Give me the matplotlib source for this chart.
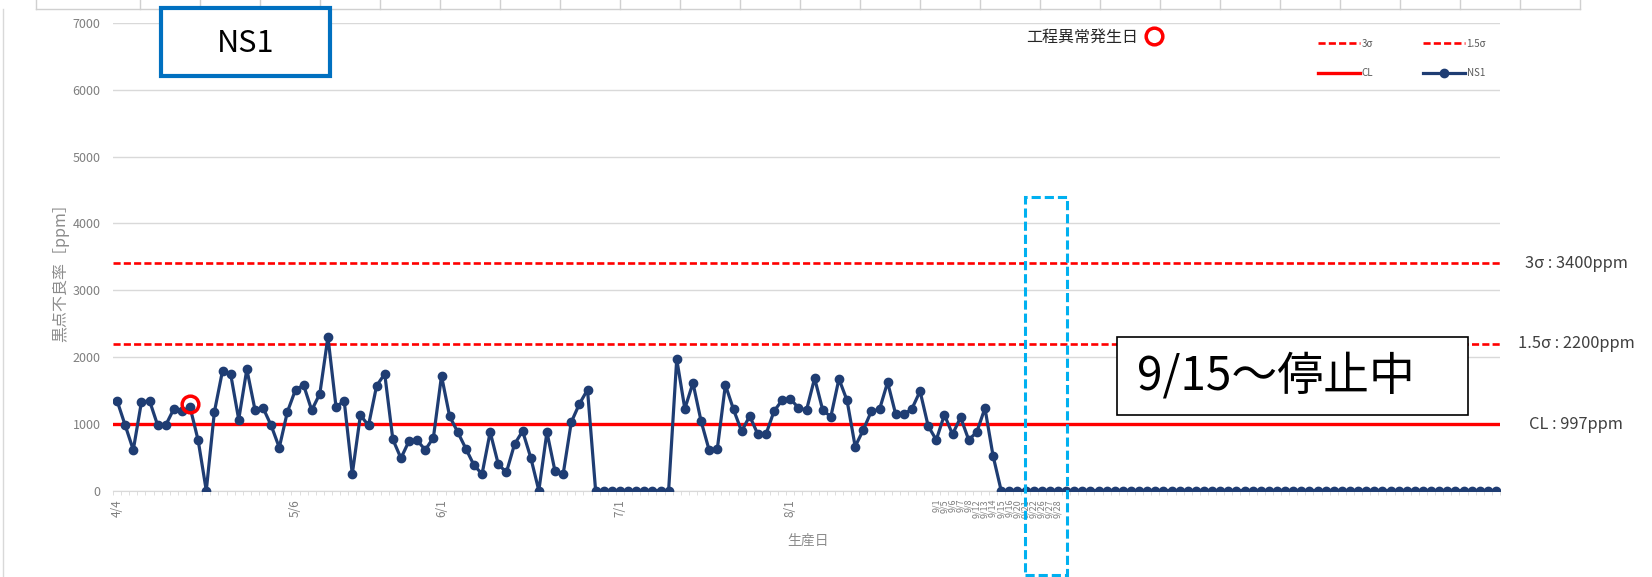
import numpy as np
import matplotlib
matplotlib.use('Agg')
import matplotlib.pyplot as plt
import matplotlib.transforms as mtransforms
from matplotlib.patches import Rectangle
from matplotlib.lines import Line2D

plt.rcParams['font.family'] = ['Noto Sans CJK JP', 'DejaVu Sans']

# 黒点不良率 (ppm), one value per production day
ns1 = [1347, 980, 609, 1322, 1347, 980, 980, 1223, 1188, 1248,
       752, 0, 1178, 1792, 1748, 1064, 1817, 1213, 1238, 975,
       644, 1178, 1510, 1579, 1203, 1450, 2300, 1248, 1347, 248,
       1129, 975, 1569, 1748, 767, 485, 743, 752, 609, 792,
       1718, 1114, 876, 629, 381, 248, 876, 396, 272, 693,
       891, 495, 0, 876, 287, 248, 1025, 1297, 1510, 0,
       0, 0, 0, 0, 0, 0, 0, 0, 0, 1969,
       1225, 1612, 1042, 605, 620, 1582, 1215, 888, 1116, 843,
       843, 1190, 1354, 1374, 1240, 1205, 1682, 1205, 1106, 1672,
       1349, 660, 908, 1190, 1215, 1622, 1141, 1141, 1225, 1488,
       967, 759, 1136, 843, 1096, 759, 878, 1235, 521] + [0] * 62

# 工程異常発生日
abnormal_idx = [9]
abnormal_val = [1300]

tick_pos = [0, 22, 40, 62, 83, 101, 102, 103, 104, 105, 106, 107, 108,
            109, 110, 111, 112, 113, 114, 115, 116]
tick_labels = ['4/4', '5/6', '6/1', '7/1', '8/1', '9/1', '9/5', '9/6', '9/7',
               '9/8', '9/12', '9/13', '9/14', '9/15', '9/16', '9/20', '9/21',
               '9/22', '9/26', '9/27', '9/28']

sigma3 = 3400
sigma15 = 2200
cl = 997

navy = '#1f3d73'
red = '#ff0000'

W, H = 1652, 577
fig = plt.figure(figsize=(W / 100, H / 100), dpi=100)


def fx(px):
    return px / W


def fy(py):
    return 1 - py / H


ax = fig.add_axes([fx(113), fy(490.6), fx(1500) - fx(113), fy(23) - fy(490.6)])
x = np.arange(len(ns1))

ax.set_xlim(-0.5, len(ns1) - 0.5)
ax.set_ylim(0, 7000)
ax.set_yticks(range(0, 7001, 1000))
ax.grid(axis='y', color='#d9d9d9', lw=1)
ax.set_axisbelow(True)
for s in ['top', 'right', 'left']:
    ax.spines[s].set_visible(False)
ax.spines['bottom'].set_color('#d9d9d9')

l3 = ax.axhline(sigma3, color=red, lw=1.9, ls=(0, (2.7, 1.2)), label='3σ', zorder=2)
l15 = ax.axhline(sigma15, color=red, lw=1.9, ls=(0, (2.7, 1.2)), label='1.5σ', zorder=2)
lcl = ax.axhline(cl, color=red, lw=2.4, label='CL', zorder=2)
lns, = ax.plot(x, ns1, color=navy, lw=2.3, marker='o', ms=6, label='NS1', zorder=4)
abn, = ax.plot(abnormal_idx, abnormal_val, ls='none', marker='o', ms=12, mfc='none',
               mec=red, mew=2.5, label='工程異常発生日', zorder=5)

ax.set_xticks(tick_pos, tick_labels, rotation=90)
ax.set_xticks(np.arange(-0.5, len(ns1), 1), minor=True)
ax.tick_params(axis='x', which='major', length=0, pad=6, labelsize=8.5, labelcolor='#7f7f7f')
ax.tick_params(axis='x', which='minor', length=3, color='#d9d9d9')
ax.tick_params(axis='y', length=0, pad=9, labelsize=9, labelcolor='#7f7f7f')
# September labels sit on every day, so they are packed tighter
for pos, lab in zip(tick_pos, ax.get_xticklabels()):
    if pos >= 101:
        lab.set_fontsize(6.5)

ax.set_ylabel('黒点不良率［ppm］', fontsize=11.5, color='#8c8c8c', va='center')
ax.yaxis.set_label_coords(-0.038, 0.474)
ax.set_xlabel('生産日', fontsize=10, color='#8c8c8c', va='center')
ax.xaxis.set_label_coords(0.501, -0.108)

leg1 = ax.legend(handles=[l3, lcl, l15, lns], ncol=2, frameon=False, fontsize=7,
                 labelcolor='#595959', handlelength=4.3, handletextpad=0.2,
                 columnspacing=5.1, labelspacing=2.0, borderpad=0,
                 loc='center', bbox_to_anchor=(fx(1402), fy(58.5)),
                 bbox_transform=fig.transFigure)
ax.add_artist(leg1)
ax.legend(handles=[abn], markerfirst=False, frameon=False, fontsize=11.5,
          labelcolor='#262626', handlelength=1.0, handletextpad=0.5, borderpad=0,
          loc='center left', bbox_to_anchor=(fx(1018), fy(37)),
          bbox_transform=fig.transFigure)

# control limit labels on the right
trans = mtransforms.blended_transform_factory(fig.transFigure, ax.transData)
for val, txt in [(sigma3, '3σ : 3400ppm'), (sigma15, '1.5σ : 2200ppm'), (cl, 'CL : 997ppm')]:
    ax.text(fx(1576), val, txt, transform=trans, ha='center', va='center',
            fontsize=11.8, color='#404040')

# NS1 title box
fig.add_artist(Rectangle((fx(161), fy(75.9)), fx(330) - fx(161), fy(8.4) - fy(75.9),
                         transform=fig.transFigure, facecolor='white',
                         edgecolor='#0070c0', lw=3, zorder=6))
fig.text(fx(245.5), fy(43), 'NS1', ha='center', va='center', fontsize=22,
         color='black', zorder=7)

# stop note box
fig.add_artist(Rectangle((fx(1117), fy(415)), fx(1468) - fx(1117), fy(337) - fy(415),
                         transform=fig.transFigure, facecolor='white',
                         edgecolor='black', lw=1.2, zorder=6))
fig.text(fx(1137), fy(376), '9/15～停止中', ha='left', va='center', fontsize=33,
         color='black', zorder=7)

# dashed highlight around late-September dates
ax.add_patch(Rectangle((111.9, -1262), 5.2, 5662, fill=False, edgecolor='#00b0f0',
                       lw=2.2, ls=(0, (3, 1.3)), clip_on=False, zorder=6))

# cut-off table header at the top
fig.add_artist(Line2D([fx(36), fx(1580)], [fy(9), fy(9)], color='#d0d0d0', lw=1))
for xp in [36] + list(range(140, 1581, 60)):
    fig.add_artist(Line2D([fx(xp), fx(xp)], [fy(0), fy(9)], color='#d0d0d0', lw=1))
fig.add_artist(Line2D([fx(3), fx(3)], [fy(9), fy(577)], color='#d9d9d9', lw=1))

fig.savefig('out.png', dpi=100)
